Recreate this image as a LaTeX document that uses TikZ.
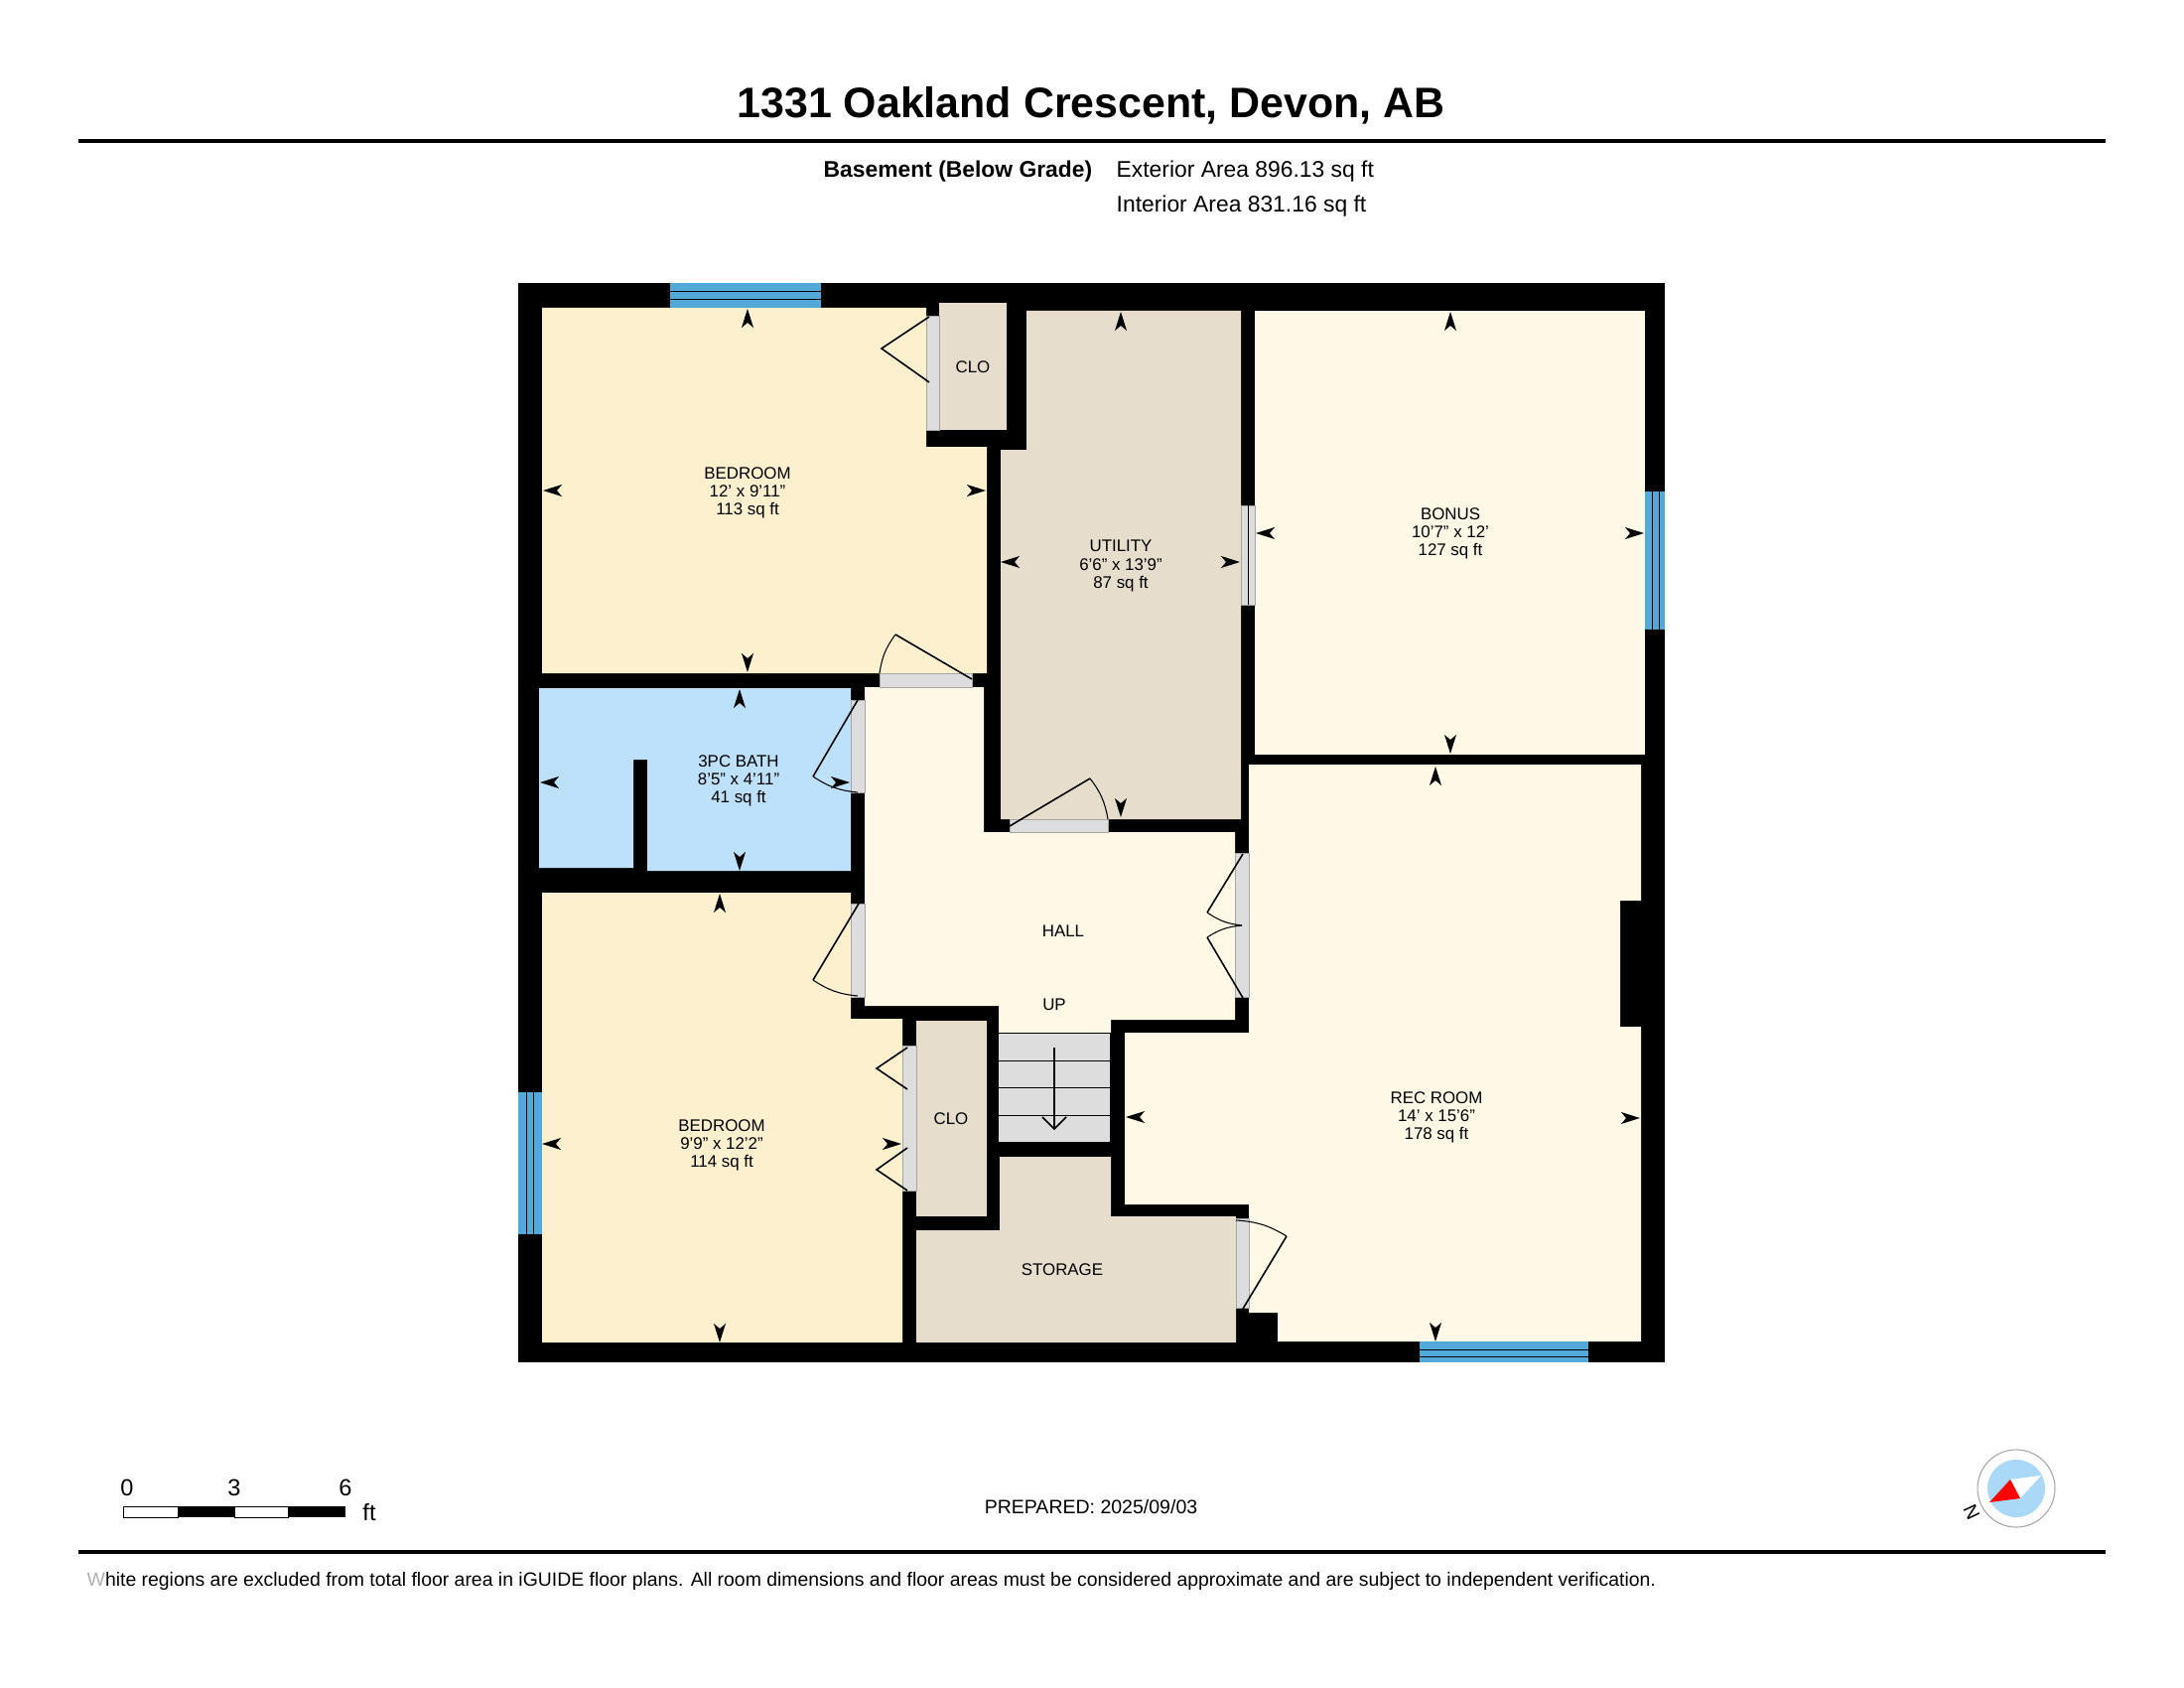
\documentclass[tikz,border=0pt]{standalone}
\usepackage{fontspec}
\setmainfont{Liberation Sans}
\definecolor{bedcol}{HTML}{FDF0CF}
\definecolor{hallcol}{HTML}{FEF9E6}
\definecolor{utilcol}{HTML}{E6DDCC}
\definecolor{bathcol}{HTML}{BDE1FB}
\definecolor{doorcol}{HTML}{DDDDDD}
\definecolor{wincol}{HTML}{52A9D8}
\definecolor{compcol}{HTML}{A9D9F6}
\tikzset{
    roomtext/.style={align=center,inner sep=0pt,font=\fontsize{4.8}{5.15}\selectfont},
    doorstrip/.style={fill=doorcol,draw=black!35,line width=0.12pt},
    doorleaf/.style={line width=0.45pt},
    doorarc/.style={line width=0.3pt},
    winpane/.style={fill=wincol},
    winline/.style={line width=0.25pt},
    rulebar/.style={line width=1.15pt},
    infotext/.style={anchor=west,inner sep=0pt,font=\fontsize{6.5}{7}\selectfont},
}
\begin{document}
\begin{tikzpicture}[x=0.01cm,y=-0.01cm]
            \useasboundingbox[fill=white] (0,-1) rectangle (2200,1699);
            %% heading
            \node[inner sep=0pt,font=\fontsize{12.2}{14}\bfseries\selectfont] (title) at (1099,105) {1331 Oakland Crescent, Devon, AB};
            \coordinate (toprule west) at (79,141);
            \coordinate (toprule east) at (2121,141);
            \draw[rulebar] (toprule west) -- (toprule east);
            \node[infotext,font=\fontsize{6.5}{7}\bfseries\selectfont] (level) at (829,172) {Basement (Below Grade)};
            \node[infotext] (extarea) at (1124,172) {Exterior Area 896.13 sq ft};
            \node[infotext] (intarea) at (1124,207) {Interior Area 831.16 sq ft};
            %% walls, everything else is cut out of this
            \fill (522,284) rectangle (1677,1371);
            %% rooms
            \fill[bedcol] (546,309) -- (933,309) -- (933,449) -- (994,449) -- (994,677) -- (546,677) -- cycle;
            \fill[utilcol] (946,304) rectangle (1014,432);
            \fill[utilcol] (1034,312) -- (1250,312) -- (1250,824) -- (1008,824) -- (1008,452) -- (1034,452) -- cycle;
            \fill[hallcol] (1264,312) rectangle (1657,759);
            \fill[hallcol] (1258,769) -- (1653,769) -- (1653,906) -- (1632,906) -- (1632,1033) -- (1653,1033) -- (1653,1350)
                -- (1287,1350) -- (1287,1321) -- (1258,1321) -- (1258,1212) -- (1133,1212) -- (1133,1039) -- (1258,1039) -- cycle;
            \fill[hallcol] (871,691) -- (991,691) -- (991,837) -- (1244,837) -- (1244,1026) -- (1119,1026) -- (1119,1039)
                -- (1006,1039) -- (1006,1012) -- (871,1012) -- cycle;
            \fill[bathcol] (543,692) -- (857,692) -- (857,876) -- (652,876) -- (652,764) -- (638,764) -- (638,873) -- (543,873) -- cycle;
            \fill[bedcol] (546,898) -- (857,898) -- (857,1025) -- (909,1025) -- (909,1351) -- (546,1351) -- cycle;
            \fill[utilcol] (923,1027) rectangle (994,1224);
            \fill[utilcol] (923,1238) -- (1007,1238) -- (1007,1164) -- (1119,1164) -- (1119,1224) -- (1245,1224) -- (1245,1351) -- (923,1351) -- cycle;
            %% windows
            \fill[winpane] (675,284) rectangle (827,309);
            \fill[winpane] (1657,494) rectangle (1677,633);
            \fill[winpane] (1430,1350) rectangle (1600,1371);
            \fill[winpane] (522,1099) rectangle (546,1242);
            \draw[winline] (675,292) -- (827,292) (675,300) -- (827,300);
            \draw[winline] (1664,494) -- (1664,633) (1671,494) -- (1671,633);
            \draw[winline] (1430,1358) -- (1600,1358) (1430,1365) -- (1600,1365);
            \draw[winline] (530,1099) -- (530,1242) (537,1099) -- (537,1242);
            %% door openings
            \foreach \xa/\ya/\xb/\yb in {933/317/946/432,886/677/979/691,857/704/871/797,857/909/871/1003,909/1052/923/1198,1017/824/1116/837,1244/858/1258/1003,1250/508/1264/608,1245/1226/1258/1316}{
            \draw[doorstrip] (\xa,\ya) rectangle (\xb,\yb);
            }
            \draw[winline] (1257,508) -- (1257,608);
            %% door leaves
            \draw[doorleaf] (936,318) -- (888,350) -- (936,384);
            \draw[doorleaf] (914,1054) -- (883,1075) -- (914,1096);
            \draw[doorleaf] (914,1155) -- (883,1177) -- (914,1198);
            \draw[doorleaf] (979,683) -- (902,638);
            \draw[doorarc] (902,638) to[bend right=14] (886,677);
            \draw[doorleaf] (864,704) -- (819,781);
            \draw[doorarc] (819,781) to[bend right=14] (864,797);
            \draw[doorleaf] (865,909) -- (819,986);
            \draw[doorarc] (819,986) to[bend right=14] (864,1002);
            \draw[doorleaf] (1017,831) -- (1098,783);
            \draw[doorarc] (1098,783) to[bend left=14] (1116,824);
            \draw[doorleaf] (1252,859) -- (1216,918);
            \draw[doorarc] (1216,918) to[bend right=14] (1251,931);
            \draw[doorarc] (1251,931) to[bend right=14] (1216,943);
            \draw[doorleaf] (1216,943) -- (1252,1004);
            \draw[doorleaf] (1252,1317) -- (1296,1244);
            \draw[doorarc] (1296,1244) to[bend right=14] (1245,1228);
            %% stairs
            \fill[doorcol] (1006,1039) rectangle (1118,1149);
            \foreach \y in {1039,1067,1094,1122}{
            \draw[winline] (1006,\y) -- (1118,\y);
            }
            \draw[doorleaf] (1062,1054) -- (1062,1136) (1050,1124) -- (1062,1136) -- (1074,1124);
            %% room dimension marks, tip on the wall
            \foreach \x/\y/\r in {753/310/0,753/676/180,547/493/90,993/493/-90,
            745/693/0,745/876/180,544/787/90,856/787/-90,
            725/899/0,725/1351/180,546/1151/90,908/1151/-90,
            1129/313/0,1129/822/180,1008/565/90,1249/565/-90,
            1461/313/0,1461/758/180,1265/536/90,1656/536/-90,
            1446/771/0,1446/1350/180,1134/1124/90,1652/1125/-90}{
            \fill[shift={(\x,\y)},rotate=\r] (0,0) -- (6,19) -- (0,14) -- (-6,19) -- cycle;
            }
            %% room labels
            \node[roomtext] (bedroomone) at (753,495) {BEDROOM\\12' x 9'11"\\113 sq ft};
            \node[roomtext] (closetone) at (980,369) {CLO};
            \node[roomtext] (utility) at (1129,569) {UTILITY\\6'6" x 13'9"\\87 sq ft};
            \node[roomtext] (bonus) at (1461,536) {BONUS\\10'7" x 12'\\127 sq ft};
            \node[roomtext] (bath) at (744,785) {3PC BATH\\8'5" x 4'11"\\41 sq ft};
            \node[roomtext] (hall) at (1071,937) {HALL};
            \node[roomtext] (up) at (1062,1011) {UP};
            \node[roomtext] (bedroomtwo) at (727,1152) {BEDROOM\\9'9" x 12'2"\\114 sq ft};
            \node[roomtext] (closettwo) at (958,1126) {CLO};
            \node[roomtext] (rec) at (1447,1124) {REC ROOM\\14' x 15'6"\\178 sq ft};
            \node[roomtext] (storage) at (1070,1278) {STORAGE};
            %% scale bar
            \draw[line width=0.2pt,fill=white] (124,1516) rectangle (179,1527);
            \fill (179,1516) rectangle (236,1527);
            \draw[line width=0.2pt,fill=white] (236,1516) rectangle (290,1527);
            \fill (290,1516) rectangle (348,1527);
            \foreach \x/\lab in {128/0,236/3,348/6}{
            \node[inner sep=0pt,font=\fontsize{6.7}{7}\selectfont] (scale\lab) at (\x,1497) {\lab};
            }
            \node[inner sep=0pt,font=\fontsize{6.7}{7}\selectfont] (scaleunit) at (372,1522) {ft};
            \node[inner sep=0pt,font=\fontsize{5.55}{7}\selectfont] (prepared) at (1099,1517) {PREPARED: 2025/09/03};
            %% compass
            \draw[draw=black!35,line width=0.3pt,fill=white] (2031,1498) circle (39);
            \fill[compcol] (2031,1498) circle (29);
            \fill[white] (2056,1485) -- (2025,1489) -- (2035,1508) -- cycle;
            \fill[red] (2004,1512) -- (2025,1489) -- (2035,1508) -- cycle;
            \node[inner sep=0pt,rotate=115,font=\fontsize{5.5}{6}\selectfont] (north) at (1986,1522) {N};
            %% footer
            \coordinate (botrule west) at (79,1562);
            \coordinate (botrule east) at (2121,1562);
            \draw[rulebar] (botrule west) -- (botrule east);
            \node[anchor=west,inner sep=0pt,font=\fontsize{5.52}{7}\selectfont] (note) at (87,1591) {\textcolor{black!30}{W}hite regions are excluded from total floor area in iGUIDE floor plans. All room dimensions and floor areas must be considered approximate and are subject to independent verification.};
\end{tikzpicture}
\end{document}
